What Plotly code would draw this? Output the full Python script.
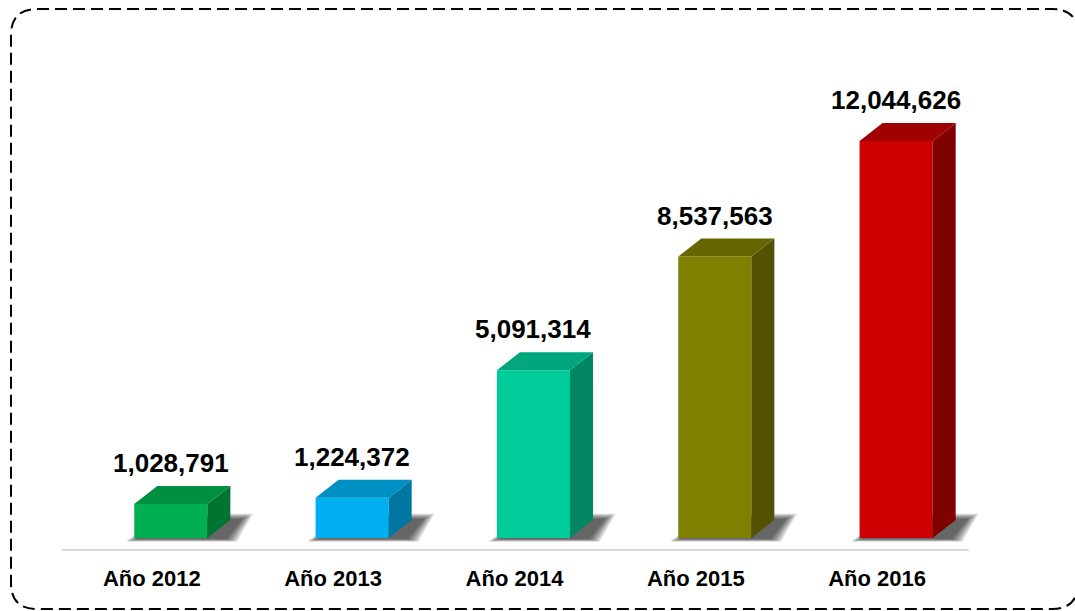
import plotly.graph_objects as go

# data
YEARS = ['Año 2012', 'Año 2013', 'Año 2014', 'Año 2015', 'Año 2016']
VALUES = [1028791, 1224372, 5091314, 8537563, 12044626]

FRONT = ['#00B050', '#00B0F0', '#00CC99', '#808000', '#CC0000']
TOP = ['#008F40', '#0090C4', '#00A67C', '#666600', '#A00000']
SIDE = ['#007532', '#0076A3', '#008663', '#525200', '#800000']

FONT = 'Liberation Sans, Arial, sans-serif'

# layout geometry (pixels)
W, H = 1075, 611
PX_X = 181.25          # pixels per category
X_RANGE = [-0.6, 4.65]
ML, MT, MB = 62, 60, 61
MR = round(W - ML - (X_RANGE[1] - X_RANGE[0]) * PX_X)
Y_MAX = 14.5e6
Y_MIN = -0.364e6
PX_Y = (H - MT - MB) / (Y_MAX - Y_MIN)   # pixels per unit value
BAR_W = 0.403
DX, DY = 23 / PX_X, 18 / PX_Y            # depth of the 3d effect

fig = go.Figure()

# soft shadows on the floor, under everything (layered to fake a blur)
N_BLUR = 12
for i in range(len(VALUES)):
    x0, x1 = i - BAR_W / 2, i + BAR_W / 2
    for k in range(N_BLUR):
        e = (N_BLUR - 1 - k) * 1.0
        yb, yt = -(1 + e * 0.25), 19 + e * 0.5
        path = 'M {} {} L {} {} L {} {} L {} {} Z'.format(
            x0 + (2 - e) / PX_X, yb / PX_Y,
            x1 + DX + (-4 + e) / PX_X, yb / PX_Y,
            x1 + DX + (12 + e) / PX_X, yt / PX_Y,
            x0 + DX + 8 / PX_X, yt / PX_Y)
        fig.add_shape(type='path', path=path, xref='x', yref='y', layer='below',
                      fillcolor='black', opacity=0.07, line=dict(width=0))

# floor line
fig.add_shape(type='line', xref='x', yref='paper', x0=-0.6, x1=4.4, y0=0, y1=0,
              line=dict(color='#D9D9D9', width=2))

# front faces
fig.add_trace(go.Bar(x=list(range(len(VALUES))), y=VALUES, width=BAR_W,
                     marker=dict(color=FRONT, line=dict(width=0)),
                     hoverinfo='skip', showlegend=False))

# side and top faces
for i, v in enumerate(VALUES):
    x0, x1 = i - BAR_W / 2, i + BAR_W / 2
    fig.add_trace(go.Scatter(x=[x1, x1, x1 + DX, x1 + DX, x1], y=[0, v, v + DY, DY, 0],
                             fill='toself', fillcolor=SIDE[i], mode='lines',
                             line=dict(width=0), hoverinfo='skip', showlegend=False))
    fig.add_trace(go.Scatter(x=[x0, x1, x1 + DX, x0 + DX, x0], y=[v, v, v + DY, v + DY, v],
                             fill='toself', fillcolor=TOP[i], mode='lines',
                             line=dict(width=0), hoverinfo='skip', showlegend=False))
    fig.add_annotation(x=i, y=v, text='{:,}'.format(v), showarrow=False,
                       yanchor='bottom', yshift=24,
                       font=dict(family=FONT, size=26, color='black', weight='bold'))

# dashed rounded frame around the chart
pw, ph = W - ML - MR, H - MT - MB
def px(x):
    return (x - ML) / pw
def py(y):
    return (H - MB - y) / ph
L, R, T, B, RAD = 11, 1078, 9, 609, 26
frame = ('M {a} {b} L {c} {b} Q {r} {b} {r} {d} L {r} {e} Q {r} {bt} {c} {bt} '
         'L {a} {bt} Q {l} {bt} {l} {e} L {l} {d} Q {l} {b} {a} {b} Z').format(
    a=px(L + RAD), b=py(T), c=px(R - RAD), r=px(R), d=py(T + RAD), e=py(B - RAD),
    bt=py(B), l=px(L))
fig.add_shape(type='path', path=frame, xref='paper', yref='paper',
              line=dict(color='black', width=2, dash='12px,6px'))

fig.update_layout(
    width=W, height=H,
    margin=dict(l=ML, r=MR, t=MT, b=MB),
    paper_bgcolor='white', plot_bgcolor='white',
    xaxis=dict(range=X_RANGE, tickvals=list(range(len(YEARS))), ticktext=YEARS,
               showgrid=False, zeroline=False, showline=False,
               ticks='', ticklabelshift=-19, ticklabelstandoff=13,
               tickfont=dict(family=FONT, size=22, color='black', weight='bold'),
               fixedrange=True),
    yaxis=dict(range=[Y_MIN, Y_MAX], visible=False, fixedrange=True),
)

fig.write_html('out.html', config={'displayModeBar': False},
               post_script="document.body.style.margin='0';")
